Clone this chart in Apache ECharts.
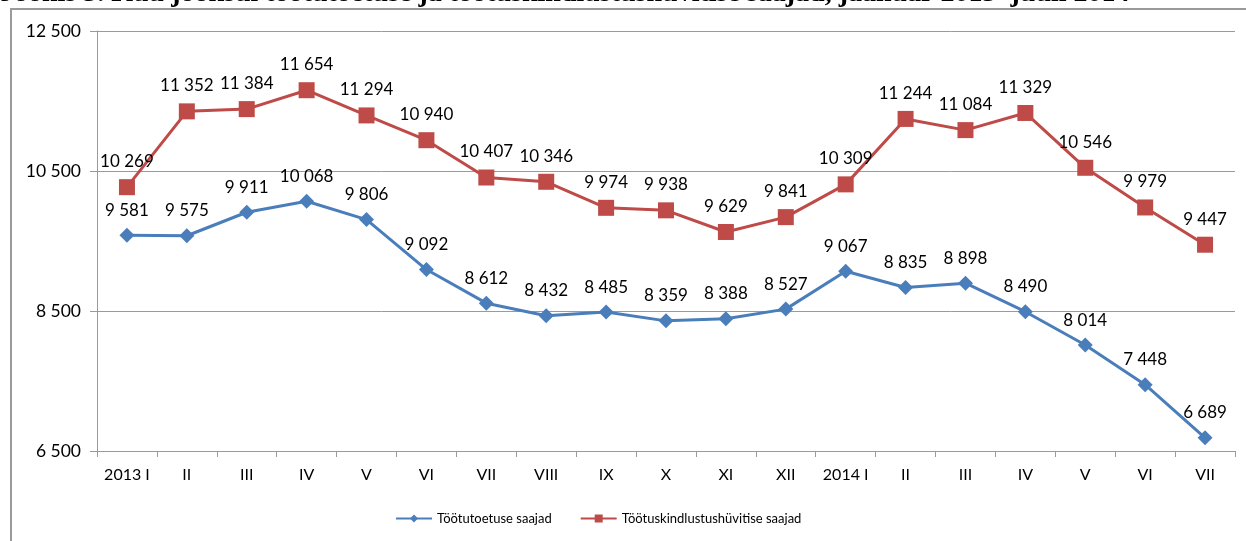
<!DOCTYPE html>
<html>
<head>
<meta charset="utf-8">
<script src="https://cdn.jsdelivr.net/npm/echarts@6/dist/echarts.min.js"></script>
<style>
  html, body { margin: 0; padding: 0; background: #fff; }
  #chart { width: 1246px; height: 541px; }
</style>
</head>
<body>
<div id="chart"></div>
<script>
const months = ['2013 I', 'II', 'III', 'IV', 'V', 'VI', 'VII', 'VIII', 'IX', 'X', 'XI', 'XII',
  '2014 I', 'II', 'III', 'IV', 'V', 'VI', 'VII'];
const toetus = [9581, 9575, 9911, 10068, 9806, 9092, 8612, 8432, 8485, 8359, 8388, 8527,
  9067, 8835, 8898, 8490, 8014, 7448, 6689];
const hyvitis = [10269, 11352, 11384, 11654, 11294, 10940, 10407, 10346, 9974, 9938, 9629, 9841,
  10309, 11244, 11084, 11329, 10546, 9979, 9447];

const fmt = v => String(v).replace(/\B(?=(\d{3})+(?!\d))/g, ' ');
const font = 'Lato, "Liberation Sans", sans-serif';

document.addEventListener("DOMContentLoaded", () => {
  echarts.init(document.querySelector("#chart")).setOption({
    animation: false,
    graphic: [
      {
        type: 'rect', shape: { x: 11, y: 9, width: 1250, height: 560 },
        style: { fill: '#fff', stroke: '#9a9a9a', lineWidth: 2 }, z: -1
      },
      {
        type: 'text', x: 0, y: -20, z: 10,
        style: {
          text: 'Joonis 5. Kuu jooksul töötutoetuse ja töötuskindlustushüvitise saajad, jaanuar 2013–juuli 2014',
          fontFamily: '"Liberation Serif", serif', fontWeight: 'bold', fontSize: 28, fill: '#000'
        }
      }
    ],
    grid: { left: 97, right: 11, top: 31, height: 420 },
    legend: {
      bottom: 11, left: 390, itemGap: 28, itemWidth: 36, itemHeight: 10,
      textStyle: { fontFamily: font, fontSize: 13, color: '#000' },
      data: ['Töötutoetuse saajad', 'Töötuskindlustushüvitise saajad']
    },
    xAxis: {
      type: 'category', data: months, boundaryGap: true,
      axisLine: { lineStyle: { color: '#9a9a9a' } },
      axisTick: { show: true, length: 6, lineStyle: { color: '#9a9a9a' } },
      axisLabel: { fontFamily: font, fontSize: 16, color: '#000', margin: 16, interval: 0 }
    },
    yAxis: {
      type: 'value', min: 6500, max: 12500, interval: 2000,
      axisLine: { show: true, lineStyle: { color: '#9a9a9a' } },
      axisTick: { show: true, length: 7, lineStyle: { color: '#9a9a9a' } },
      splitLine: { lineStyle: { color: '#9a9a9a' } },
      axisLabel: { fontFamily: font, fontSize: 17.5, color: '#000', margin: 16, formatter: fmt }
    },
    series: [
      {
        name: 'Töötutoetuse saajad', type: 'line', data: toetus,
        symbol: 'diamond', symbolSize: 15,
        itemStyle: { color: '#4a7ebb' },
        lineStyle: { width: 3, color: '#4a7ebb' },
        label: { show: true, position: 'top', distance: 9, formatter: p => fmt(p.value),
          fontFamily: font, fontSize: 17, color: '#000' }
      },
      {
        name: 'Töötuskindlustushüvitise saajad', type: 'line', data: hyvitis,
        symbol: 'rect', symbolSize: 16,
        itemStyle: { color: '#be4b48' },
        lineStyle: { width: 3, color: '#be4b48' },
        label: { show: true, position: 'top', distance: 9, formatter: p => fmt(p.value),
          fontFamily: font, fontSize: 17, color: '#000' }
      }
    ]
  });
});
</script>
</body>
</html>
